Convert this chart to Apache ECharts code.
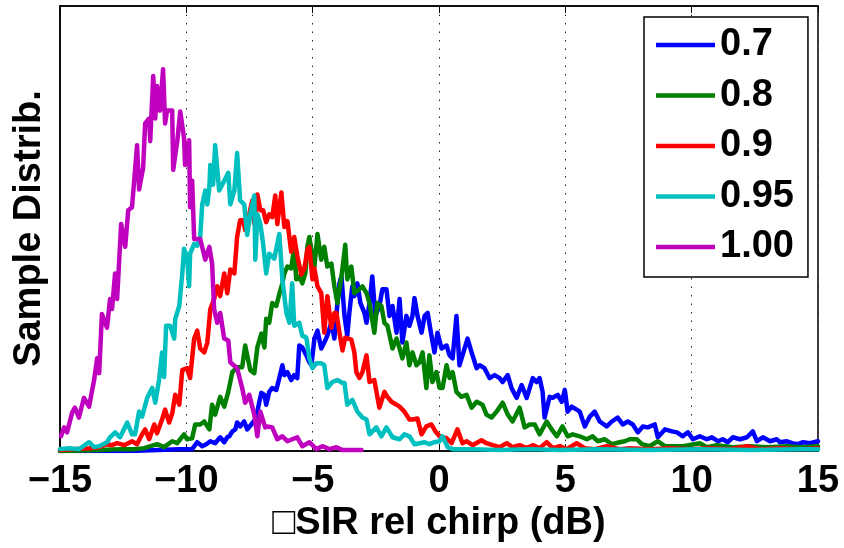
<!DOCTYPE html>
<html>
<head>
<meta charset="utf-8">
<script src="https://cdn.jsdelivr.net/npm/echarts@6/dist/echarts.min.js"></script>
<style>
html,body{margin:0;padding:0;background:#fff;}
#chart{width:844px;height:548px;}
</style>
</head>
<body>
<div id="chart"></div>
<script>
// ---- Data (x in dB, y = sample distribution, arbitrary units) ----
const seriesNames = ['0.7', '0.8', '0.9', '0.95', '1.00'];
const xTicks = [-15, -10, -5, 0, 5, 10, 15];

const blueX = [-15.00,-12.27,-11.08,-10.28,-9.77,-9.57,-9.37,-9.21,-9.05,-8.86, -8.66,-8.50,-8.38,-8.30,-8.18,-8.06,-7.99,-7.87,-7.71,-7.59, -7.43,-7.27,-7.19,-7.11,-7.03,-6.91,-6.84,-6.72,-6.60,-6.44, -6.32,-6.20,-6.12,-6.00,-5.85,-5.73,-5.61,-5.53,-5.41,-5.25, -5.13,-5.05,-4.93,-4.81,-4.66,-4.54,-4.42,-4.26,-4.14,-4.02, -3.94,-3.86,-3.74,-3.63,-3.55,-3.43,-3.35,-3.23,-3.11,-2.95, -2.87,-2.75,-2.64,-2.52,-2.36,-2.24,-2.08,-1.96,-1.84,-1.68, -1.56,-1.45,-1.29,-1.17,-1.05,-0.97,-0.85,-0.69,-0.57,-0.45, -0.30,-0.18,-0.06,0.10,0.30,0.42,0.54,0.69,0.81,0.93, 1.13,1.29,1.49,1.61,1.80,2.00,2.20,2.40,2.52,2.72, 2.87,3.07,3.27,3.47,3.71,3.87,3.98,4.10,4.18,4.38, 4.50,4.70,4.86,4.98,5.09,5.25,5.45,5.57,5.77,5.97, 6.16,6.36,6.64,6.84,7.07,7.27,7.47,7.67,7.87,8.07, 8.26,8.54,8.66,8.94,9.22,9.42,9.65,9.85,10.05,10.32, 10.60,10.80,11.04,11.23,11.43,11.63,11.91,12.19,12.42,12.58, 12.82,13.10,13.37,13.49,13.77,13.97,14.21,14.41,14.68,15.00];
const blueY = [0,0,1,2,2,9,5,7,10,8, 14,9,14,15,20,22,29,25,30,22, 27,32,40,50,59,57,47,60,64,62, 74,87,77,80,72,77,74,107,105,97, 90,87,114,122,104,110,117,130,114,150, 170,177,137,117,140,167,157,170,150,140, 130,150,177,137,147,164,164,137,147,120, 154,110,137,127,137,155,137,120,137,140, 117,100,120,104,107,97,94,137,87,97, 114,100,84,87,84,74,77,74,70,77, 64,54,67,54,74,70,74,60,34,55, 54,57,50,62,40,45,42,40,25,35, 40,30,25,30,34,27,30,27,19,25, 24,27,14,22,20,19,15,19,12,15, 12,14,10,12,9,14,12,14,20,10, 14,10,12,9,10,8,7,9,8,10];

const greenX = [-15.00,-13.45,-12.62,-12.07,-11.67,-11.16,-10.88,-10.56,-10.36,-10.09, -9.97,-9.77,-9.65,-9.45,-9.29,-9.09,-8.98,-8.86,-8.66,-8.50, -8.34,-8.18,-7.99,-7.79,-7.67,-7.47,-7.31,-7.19,-7.03,-6.91, -6.84,-6.72,-6.60,-6.44,-6.32,-6.20,-6.12,-6.00,-5.85,-5.73, -5.65,-5.53,-5.41,-5.29,-5.21,-5.13,-5.01,-4.93,-4.81,-4.66, -4.54,-4.42,-4.26,-4.14,-4.02,-3.86,-3.71,-3.63,-3.47,-3.35, -3.15,-3.03,-2.87,-2.75,-2.56,-2.44,-2.28,-2.16,-2.04,-1.84, -1.68,-1.56,-1.45,-1.29,-1.17,-1.05,-0.89,-0.77,-0.65,-0.50, -0.38,-0.26,-0.10,0.02,0.14,0.30,0.42,0.54,0.69,0.89, 1.09,1.29,1.49,1.72,1.88,2.08,2.28,2.52,2.72,2.91, 3.19,3.39,3.59,3.79,3.98,4.26,4.46,4.66,4.89,5.09, 5.29,5.57,5.85,6.08,6.28,6.56,6.84,7.15,7.35,7.55, 7.83,8.03,8.34,8.66,8.94,9.38,9.65,10.32,10.60,11.00, 11.63,12.31,12.98,13.77,14.29,15.00];
const greenY = [0,1,2,2,3,7,4,10,8,17, 12,13,27,27,30,22,47,37,55,45, 60,80,85,85,107,82,79,105,119,105, 134,130,150,147,159,170,180,187,185,207, 174,177,170,180,207,217,197,187,220,194, 207,187,190,167,150,177,209,174,187,160, 164,167,160,150,120,150,147,130,127,104, 114,104,94,110,87,100,87,90,100,64, 97,70,80,64,64,87,74,80,60,55, 57,44,50,47,37,34,40,49,37,30, 44,24,27,27,17,30,22,15,25,15, 17,15,12,15,10,12,7,9,10,12, 12,7,5,10,5,5,5,8,4,6, 4,5,4,5,4,5];

const redX = [-15.00,-14.45,-13.85,-13.45,-13.14,-12.94,-12.74,-12.46,-12.15,-11.95, -11.75,-11.63,-11.47,-11.27,-11.16,-10.96,-10.84,-10.68,-10.56,-10.44, -10.28,-10.16,-9.97,-9.85,-9.69,-9.57,-9.45,-9.29,-9.17,-9.05, -8.90,-8.78,-8.66,-8.50,-8.38,-8.26,-8.10,-7.99,-7.87,-7.75, -7.67,-7.51,-7.39,-7.31,-7.19,-7.07,-6.96,-6.84,-6.72,-6.60, -6.48,-6.40,-6.24,-6.12,-6.00,-5.85,-5.73,-5.61,-5.45,-5.33, -5.21,-5.13,-5.01,-4.93,-4.81,-4.66,-4.54,-4.42,-4.26,-4.14, -4.06,-3.94,-3.82,-3.71,-3.59,-3.47,-3.35,-3.27,-3.15,-3.03, -2.87,-2.75,-2.56,-2.36,-2.16,-2.04,-1.88,-1.68,-1.56,-1.37, -1.17,-1.05,-0.85,-0.69,-0.50,-0.30,-0.14,0.02,0.30,0.50, 0.73,0.93,1.09,1.33,1.68,1.88,2.12,2.40,2.68,2.91, 3.19,3.47,3.71,3.98,4.26,4.50,4.78,5.05,5.45,5.77, 6.16,6.64,7.15,7.55,8.34,9.14,9.93,10.72,11.51,12.19, 12.70,13.50,14.29,15.00];
const redY = [1,2,3,4,7,6,8,6,10,7, 17,22,12,27,18,32,42,29,38,57, 47,82,84,74,114,122,104,100,110,144, 154,167,157,180,160,184,180,217,234,234, 224,240,254,230,260,244,244,232,240,237, 259,230,262,227,233,202,217,198,179,185, 204,207,174,185,167,160,120,157,125,140, 140,120,102,115,114,113,100,80,74,80, 97,70,72,44,60,55,50,47,45,40, 32,32,33,17,25,27,20,15,13,8, 22,8,10,6,11,8,6,4,8,4, 6,3,6,3,9,3,5,2,8,3, 2,5,2,3,2,3,2,3,2,5, 2,3,2,3];

const cyanX = [-15.00,-14.64,-14.25,-13.85,-13.65,-13.45,-13.14,-13.02,-12.82,-12.62, -12.34,-12.15,-12.03,-11.87,-11.75,-11.55,-11.35,-11.23,-11.08,-10.96, -10.88,-10.80,-10.64,-10.48,-10.44,-10.28,-10.16,-10.09,-9.97,-9.89, -9.85,-9.69,-9.57,-9.45,-9.37,-9.25,-9.17,-9.09,-9.05,-8.94, -8.86,-8.70,-8.50,-8.34,-8.26,-8.10,-7.99,-7.87,-7.71,-7.59, -7.47,-7.31,-7.27,-7.19,-7.07,-6.96,-6.84,-6.72,-6.52,-6.32, -6.20,-6.04,-5.92,-5.81,-5.73,-5.53,-5.41,-5.25,-5.13,-5.01, -4.85,-4.66,-4.54,-4.42,-4.22,-4.02,-3.82,-3.74,-3.63,-3.43, -3.23,-3.03,-2.87,-2.75,-2.48,-2.28,-2.08,-1.84,-1.56,-1.37, -1.17,-0.97,-0.77,-0.57,-0.38,-0.18,0.02,0.14,0.34,0.54, 1.21,2.40,3.59,4.78,6.36,8.34,10.32,12.31,14.29,15.00];
const cyanY = [2,3,2,9,4,5,9,14,19,14, 29,17,17,40,35,54,64,49,72,100, 75,127,127,114,134,147,180,205,197,167, 200,210,208,217,250,264,250,267,290,270, 310,264,274,282,250,264,302,254,250,219, 240,259,194,240,230,210,180,200,195,220, 174,140,130,170,127,130,117,115,94,84, 89,89,87,64,70,72,69,69,47,52, 40,34,32,17,24,15,24,14,12,17, 15,7,8,9,7,9,10,15,4,2, 2,1,2,1,2,1,2,1,2,2];

const magX = [-14.96,-14.84,-14.72,-14.52,-14.41,-14.25,-14.05,-13.85,-13.65,-13.53, -13.45,-13.34,-13.14,-13.02,-12.94,-12.82,-12.74,-12.58,-12.42,-12.30, -12.15,-11.95,-11.87,-11.71,-11.63,-11.47,-11.43,-11.31,-11.23,-11.16, -11.04,-10.92,-10.84,-10.76,-10.56,-10.52,-10.36,-10.24,-10.09,-10.05, -9.89,-9.85,-9.77,-9.69,-9.45,-9.25,-9.09,-8.98,-8.90,-8.78, -8.66,-8.50,-8.34,-8.26,-7.99,-7.79,-7.67,-7.51,-7.31,-7.19, -7.07,-6.88,-6.80,-6.60,-6.40,-6.20,-6.00,-5.81,-5.61,-5.41, -5.13,-4.85,-4.62,-4.34,-4.06,-3.82,-3.07];
const magY = [15,24,19,39,44,34,54,45,72,94, 79,139,125,154,144,180,154,230,207,244, 247,310,265,287,332,337,314,380,337,370, 345,387,332,345,345,285,314,344,317,290, 315,247,274,215,215,194,207,190,144,130, 140,114,112,90,84,64,49,57,37,15, 40,24,25,24,12,15,10,12,14,5, 9,2,5,2,4,1,1];

const seriesColors = ['#0000ff', '#008000', '#ff0000', '#00bfbf', '#bf00bf'];

// ---- Build ----
function zip(xs, ys) {
  const n = Math.min(xs.length, ys.length);
  const out = [];
  for (let i = 0; i < n; i++) out.push([xs[i], ys[i]]);
  return out;
}
const allData = [zip(blueX, blueY), zip(greenX, greenY), zip(redX, redY), zip(cyanX, cyanY), zip(magX, magY)];

const FONT = '"Liberation Sans", Arial, Helvetica, sans-serif';
const fmt = v => (v < 0 ? '\u2212' + Math.abs(v) : String(v));

const chart = echarts.init(document.getElementById('chart'), null, { renderer: 'canvas' });
chart.setOption({
  animation: false,
  backgroundColor: '#ffffff',
  grid: { left: 60, right: 26, top: 6, bottom: 91, show: true, borderColor: '#000', borderWidth: 1.5, backgroundColor: 'transparent' },
  legend: {
    data: seriesNames,
    orient: 'vertical',
    left: 644, top: 17,
    padding: [8, 14, 10, 12],
    itemGap: 10.5,
    icon: 'rect',
    itemWidth: 59, itemHeight: 4.5,
    backgroundColor: '#fff',
    borderColor: '#000', borderWidth: 1.5, borderRadius: 0,
    textStyle: { fontFamily: FONT, fontWeight: 'bold', fontSize: 38, lineHeight: 40, color: '#000' }
  },
  xAxis: [{
    type: 'value', min: xTicks[0], max: xTicks[xTicks.length - 1], interval: 5,
    position: 'bottom',
    name: '\u25A1SIR rel chirp (dB)', nameLocation: 'middle', nameGap: 46,
    nameTextStyle: { fontFamily: FONT, fontWeight: 'bold', fontSize: 38, color: '#000' },
    axisLine: { show: true, onZero: false, lineStyle: { color: '#000', width: 1.5 } },
    axisTick: { show: true, inside: true, length: 7, lineStyle: { color: '#000', width: 1 } },
    axisLabel: { formatter: fmt, fontFamily: FONT, fontWeight: 'bold', fontSize: 38, color: '#000', margin: 11 },
    splitLine: { show: true, lineStyle: { color: '#222', width: 1, type: [1.5, 7] } }
  }, {
    type: 'value', min: xTicks[0], max: xTicks[xTicks.length - 1], interval: 5,
    position: 'top',
    axisLine: { show: true, onZero: false, lineStyle: { color: '#000', width: 1.5 } },
    axisTick: { show: true, inside: true, length: 7, lineStyle: { color: '#000', width: 1 } },
    axisLabel: { show: false },
    splitLine: { show: false }
  }],
  yAxis: {
    type: 'value', min: 0, max: 451,
    name: 'Sample Distrib.', nameLocation: 'middle', nameGap: 11,
    nameTextStyle: { fontFamily: FONT, fontWeight: 'bold', fontSize: 38, color: '#000' },
    axisLine: { show: true, onZero: false, lineStyle: { color: '#000', width: 1.5 } },
    axisTick: { show: false },
    axisLabel: { show: false },
    splitLine: { show: false }
  },
  series: seriesNames.map((name, i) => ({
    name: name,
    type: 'line',
    data: allData[i],
    xAxisIndex: 0,
    showSymbol: false,
    symbol: 'none',
    color: seriesColors[i],
    lineStyle: { color: seriesColors[i], width: 4.5, cap: 'round', join: 'round' },
    z: 2 + i
  }))
});
</script>
</body>
</html>
